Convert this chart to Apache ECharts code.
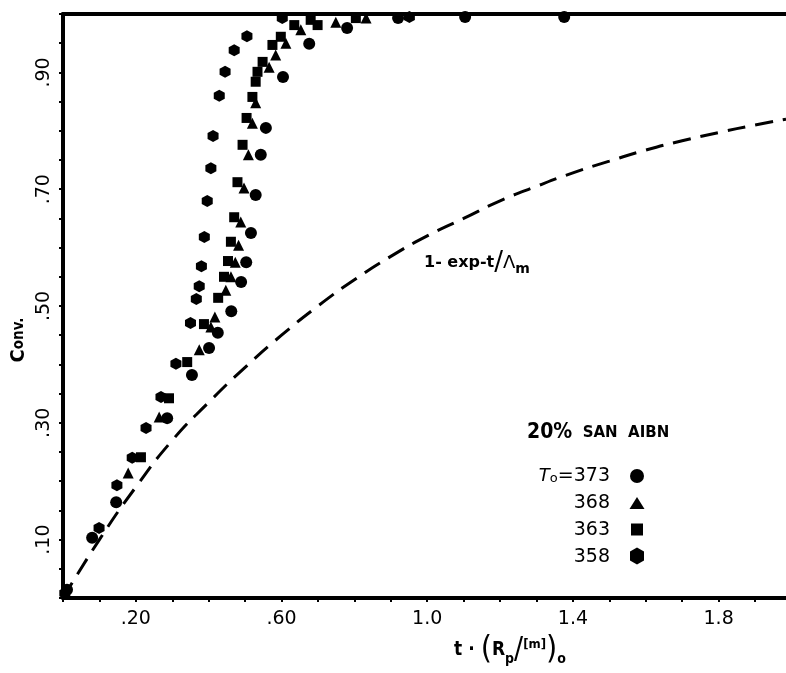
<!DOCTYPE html>
<html><head><meta charset="utf-8">
<script src="https://cdn.jsdelivr.net/npm/echarts@6/dist/echarts.min.js"></script>
<style>html,body{margin:0;padding:0;background:#fff}#c{width:786px;height:673px}</style>
</head><body><div id="c"></div>
<script>
// ---- data ----
const s373 = [[0.011,0.014],[0.080,0.103],[0.146,0.164],[0.286,0.308],[0.354,0.382],[0.401,0.428],[0.425,0.454],[0.462,0.491],[0.489,0.541],[0.503,0.575],[0.516,0.625],[0.529,0.690],[0.543,0.759],[0.557,0.805],[0.604,0.892],[0.676,0.949],[0.780,0.976],[0.920,0.993],[1.104,0.995],[1.376,0.995]];
const s368 = [[0.179,0.214],[0.264,0.310],[0.374,0.425],[0.406,0.464],[0.417,0.481],[0.447,0.527],[0.461,0.550],[0.473,0.575],[0.482,0.604],[0.488,0.644],[0.497,0.702],[0.509,0.759],[0.520,0.813],[0.529,0.848],[0.566,0.909],[0.584,0.930],[0.612,0.950],[0.653,0.973],[0.749,0.986],[0.832,0.993]];
const s363 = [[0.214,0.241],[0.291,0.342],[0.341,0.404],[0.387,0.469],[0.426,0.514],[0.442,0.550],[0.453,0.577],[0.461,0.610],[0.470,0.652],[0.479,0.712],[0.493,0.776],[0.504,0.822],[0.520,0.858],[0.529,0.884],[0.534,0.901],[0.548,0.918],[0.575,0.947],[0.598,0.961],[0.635,0.981],[0.680,0.990],[0.699,0.981],[0.804,0.993]];
const s358 = [[0.005,0.008],[0.099,0.120],[0.148,0.193],[0.190,0.240],[0.228,0.291],[0.269,0.344],[0.310,0.401],[0.350,0.471],[0.366,0.512],[0.374,0.534],[0.380,0.568],[0.388,0.618],[0.396,0.680],[0.406,0.736],[0.412,0.791],[0.429,0.860],[0.445,0.901],[0.470,0.938],[0.505,0.962],[0.602,0.993],[0.951,0.995]];
const curveT = [0,0.1,0.2,0.3,0.4,0.5,0.6,0.7,0.8,0.9,1.0,1.1,1.2,1.3,1.4,1.5,1.6,1.7,1.8,1.9,1.985];
const curveC = [0,0.10,0.19,0.27,0.335,0.395,0.45,0.50,0.545,0.585,0.62,0.65,0.68,0.705,0.728,0.748,0.767,0.783,0.797,0.81,0.82];
const xTickValues = [0.2,0.6,1.0,1.4,1.8];
const xTickLabels = ['.20','.60','1.0','1.4','1.8'];
const yTickValues = [0.1,0.3,0.5,0.7,0.9];
const yTickLabels = ['.10','.30','.50','.70','.90'];
const seriesNames = ['373','368','363','358'];

const HEX = 'path://M0,-1 L0.866,-0.5 L0.866,0.5 L0,1 L-0.866,0.5 L-0.866,-0.5 Z';
const curve = curveT.map((t,i)=>[t,curveC[i]]);
function pick(vals, labs){ return v => { const i = vals.findIndex(t=>Math.abs(t-v)<1e-6); return i>=0?labs[i]:''; }; }

const chart = echarts.init(document.getElementById('c'), null, {renderer:'canvas'});
const FONT = '"DejaVu Sans"';
const COND = '"DejaVu Sans Condensed"';
const black = '#000';
const sc = (name, data, symbol, size) => ({type:'scatter', name, data, symbol, symbolSize:size, clip:false,
  itemStyle:{color:black, opacity:1}, z:5});

chart.setOption({
  backgroundColor:'#fff',
  animation:false,
  grid:{left:63, right:0, top:14, bottom:75},
  xAxis:[{
    type:'value', min:0, max:1.985, interval:0.1, position:'bottom',
    axisLine:{show:true, onZero:false, lineStyle:{color:black, width:4}},
    axisTick:{show:true, length:4, lineStyle:{color:black, width:2}},
    splitLine:{show:false},
    axisLabel:{formatter:pick(xTickValues,xTickLabels), color:black, fontFamily:FONT, fontSize:19, margin:12, hideOverlap:false, showMaxLabel:false}
  },{
    type:'value', min:0, max:1.985, position:'top',
    axisLine:{show:true, onZero:false, lineStyle:{color:black, width:4}},
    axisTick:{show:false}, axisLabel:{show:false}, splitLine:{show:false}
  }],
  yAxis:{
    type:'value', min:0, max:1, interval:0.05,
    axisLine:{show:true, onZero:false, lineStyle:{color:black, width:4}},
    axisTick:{show:true, length:4, lineStyle:{color:black, width:2}},
    splitLine:{show:false},
    axisLabel:{formatter:pick(yTickValues,yTickLabels), rotate:90, color:black, fontFamily:FONT, fontSize:19, margin:9, hideOverlap:false}
  },
  series:[
    {type:'line', name:'1-exp-t/Λm', data:curve, smooth:true, showSymbol:false, symbol:'none',
      lineStyle:{color:black, width:3, type:[18,10]}, z:3},
    sc(seriesNames[0], s373, 'circle', 12),
    sc(seriesNames[1], s368, 'triangle', 11),
    sc(seriesNames[2], s363, 'rect', 10),
    sc(seriesNames[3], s358, HEX, [11,12])
  ],
  graphic:[
    {type:'text', x:19, y:340, rotation:Math.PI/2, style:{text:'{c|C}{o|onv.}', align:'center', verticalAlign:'middle',
      rich:{c:{font:'bold 20px '+COND, fill:black}, o:{font:'bold 15px '+COND, fill:black}}}},
    {type:'text', x:510, y:650, style:{text:'{a|t · }{p|(}{r|R}{s|p}{sl|/}{m|[m]}{p|)}{s|o}', align:'center', verticalAlign:'middle',
      rich:{a:{font:'bold 19px '+COND, fill:black, verticalAlign:'middle'},
            p:{font:'32px '+COND, fill:black, verticalAlign:'middle'},
            r:{font:'bold 19px '+COND, fill:black, verticalAlign:'middle'},
            s:{font:'bold 14px '+COND, fill:black, verticalAlign:'bottom'},
            sl:{font:'30px '+COND, fill:black, verticalAlign:'middle'},
            m:{font:'bold 13px '+COND, fill:black, verticalAlign:'top', padding:[4,0,0,0]}}}},
    {type:'text', x:424, y:263, style:{text:'{a|1- exp-t}{sl|/}{l|Λ}{s|m}', align:'left', verticalAlign:'middle',
      rich:{a:{font:'bold 16px '+FONT, fill:black, verticalAlign:'middle'},
            sl:{font:'26px '+FONT, fill:black, verticalAlign:'middle'},
            l:{font:'18px '+FONT, fill:black, verticalAlign:'middle'},
            s:{font:'bold 14px '+FONT, fill:black, verticalAlign:'bottom'}}}},
    {type:'text', x:527, y:433, style:{text:'{a|20%}{b|  SAN  AIBN}', align:'left', verticalAlign:'middle',
      rich:{a:{font:'bold 21px '+COND, fill:black}, b:{font:'bold 15px '+FONT, fill:black}}}},
    {type:'text', x:610, y:476, style:{text:'{t|T}{o|o}{n|=373}', align:'right', verticalAlign:'middle',
      rich:{t:{font:'italic 18px '+FONT, fill:black, verticalAlign:'middle'},
            o:{font:'13px '+FONT, fill:black, verticalAlign:'bottom'},
            n:{font:'19px '+FONT, fill:black, verticalAlign:'middle'}}}},
    {type:'text', x:610, y:503, style:{text:'368', align:'right', verticalAlign:'middle', font:'19px '+FONT, fill:black}},
    {type:'text', x:610, y:530, style:{text:'363', align:'right', verticalAlign:'middle', font:'19px '+FONT, fill:black}},
    {type:'text', x:610, y:557, style:{text:'358', align:'right', verticalAlign:'middle', font:'19px '+FONT, fill:black}},
    {type:'circle', shape:{cx:637, cy:476, r:7}, style:{fill:black}},
    {type:'polygon', shape:{points:[[637,497],[644.5,509],[629.5,509]]}, style:{fill:black}},
    {type:'rect', shape:{x:631, y:523.5, width:12, height:12}, style:{fill:black}},
    {type:'polygon', shape:{points:[[637,547.5],[644,551.5],[644,560.5],[637,564.5],[630,560.5],[630,551.5]]}, style:{fill:black}}
  ]
});
</script></body></html>
